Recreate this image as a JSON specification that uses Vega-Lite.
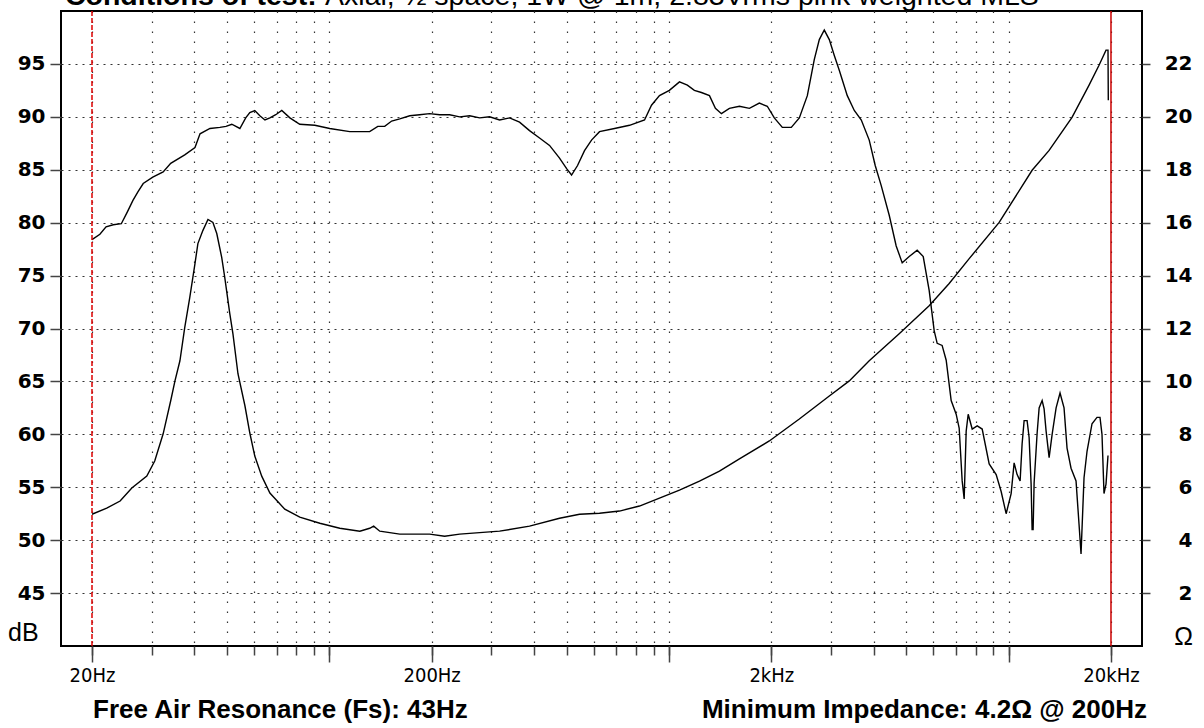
{
  "$schema": "https://vega.github.io/schema/vega-lite/v6.json",
  "width": 1081,
  "height": 635,
  "autosize": {"type": "none"},
  "padding": {"left": 61, "top": 11, "right": 62, "bottom": 82},
  "background": "#ffffff",
  "config": {"view": {"stroke": "#000000", "strokeWidth": 2}, "axis": {"domain": false}},
  "datasets": {
    "spl": [{"freq":20,"spl":78.4},{"freq":21.1,"spl":78.9},{"freq":22,"spl":79.6},{"freq":23.1,"spl":79.8},{"freq":24.4,"spl":79.9},{"freq":25.4,"spl":81.0},{"freq":26.4,"spl":82.1},{"freq":27.3,"spl":82.9},{"freq":28.3,"spl":83.7},{"freq":30.2,"spl":84.3},{"freq":32.4,"spl":84.8},{"freq":34.1,"spl":85.6},{"freq":37.5,"spl":86.4},{"freq":40.2,"spl":87.1},{"freq":41.6,"spl":88.4},{"freq":44.5,"spl":88.9},{"freq":47.6,"spl":89.0},{"freq":49.6,"spl":89.1},{"freq":51.6,"spl":89.3},{"freq":54.5,"spl":88.9},{"freq":56.7,"spl":89.9},{"freq":58.3,"spl":90.4},{"freq":60.3,"spl":90.6},{"freq":62.4,"spl":90.1},{"freq":64.6,"spl":89.7},{"freq":66.8,"spl":89.9},{"freq":69.5,"spl":90.2},{"freq":72.4,"spl":90.6},{"freq":76.5,"spl":89.9},{"freq":81.8,"spl":89.3},{"freq":90.6,"spl":89.2},{"freq":100.2,"spl":88.9},{"freq":114.8,"spl":88.6},{"freq":131.4,"spl":88.6},{"freq":138.8,"spl":89.1},{"freq":145.5,"spl":89.1},{"freq":152.5,"spl":89.6},{"freq":161.1,"spl":89.8},{"freq":172.4,"spl":90.1},{"freq":184.3,"spl":90.2},{"freq":197.3,"spl":90.3},{"freq":211.1,"spl":90.2},{"freq":225.9,"spl":90.2},{"freq":241.8,"spl":90.0},{"freq":258.8,"spl":90.1},{"freq":276.9,"spl":89.9},{"freq":296.2,"spl":90.0},{"freq":317,"spl":89.7},{"freq":339.2,"spl":89.9},{"freq":362.9,"spl":89.5},{"freq":388.3,"spl":88.7},{"freq":415.6,"spl":88.0},{"freq":444.7,"spl":87.3},{"freq":475.9,"spl":86.1},{"freq":499.3,"spl":85.1},{"freq":516.3,"spl":84.5},{"freq":537.7,"spl":85.4},{"freq":563.7,"spl":86.8},{"freq":591.1,"spl":87.8},{"freq":624,"spl":88.6},{"freq":690.8,"spl":88.9},{"freq":764.8,"spl":89.2},{"freq":846.7,"spl":89.7},{"freq":887.7,"spl":91.1},{"freq":937,"spl":92.0},{"freq":1002,"spl":92.5},{"freq":1073,"spl":93.3},{"freq":1132,"spl":93.0},{"freq":1187,"spl":92.5},{"freq":1245,"spl":92.3},{"freq":1315,"spl":92.0},{"freq":1369,"spl":90.8},{"freq":1426,"spl":90.3},{"freq":1505,"spl":90.8},{"freq":1611,"spl":91.0},{"freq":1724,"spl":90.8},{"freq":1844,"spl":91.3},{"freq":1946,"spl":91.0},{"freq":2041,"spl":89.9},{"freq":2155,"spl":89.0},{"freq":2290,"spl":89.0},{"freq":2418,"spl":89.9},{"freq":2553,"spl":92.0},{"freq":2676,"spl":95.4},{"freq":2769,"spl":97.3},{"freq":2864,"spl":98.2},{"freq":2963,"spl":97.3},{"freq":3065,"spl":95.8},{"freq":3170,"spl":94.4},{"freq":3347,"spl":92.0},{"freq":3510,"spl":90.6},{"freq":3681,"spl":89.7},{"freq":3884,"spl":87.8},{"freq":4045,"spl":85.4},{"freq":4213,"spl":83.5},{"freq":4448,"spl":80.7},{"freq":4663,"spl":77.8},{"freq":4857,"spl":76.2},{"freq":5093,"spl":76.8},{"freq":5376,"spl":77.4},{"freq":5601,"spl":76.8},{"freq":5831,"spl":73.6},{"freq":6032,"spl":69.8},{"freq":6156,"spl":68.6},{"freq":6366,"spl":68.4},{"freq":6544,"spl":67.0},{"freq":6769,"spl":63.2},{"freq":7002,"spl":61.9},{"freq":7146,"spl":60.6},{"freq":7293,"spl":55.6},{"freq":7393,"spl":53.9},{"freq":7494,"spl":60.3},{"freq":7597,"spl":61.9},{"freq":7806,"spl":60.5},{"freq":8075,"spl":60.8},{"freq":8353,"spl":60.5},{"freq":8758,"spl":57.2},{"freq":9183,"spl":56.2},{"freq":9499,"spl":54.6},{"freq":9826,"spl":52.5},{"freq":10164,"spl":54.4},{"freq":10372,"spl":57.3},{"freq":10584,"spl":56.2},{"freq":10802,"spl":55.6},{"freq":10949,"spl":59.1},{"freq":11099,"spl":61.3},{"freq":11326,"spl":61.3},{"freq":11481,"spl":59.7},{"freq":11638,"spl":55.3},{"freq":11717,"spl":51.0},{"freq":11797,"spl":51.0},{"freq":11877,"spl":55.4},{"freq":12122,"spl":60.1},{"freq":12288,"spl":62.5},{"freq":12541,"spl":63.2},{"freq":12709,"spl":62.4},{"freq":12883,"spl":60.3},{"freq":13149,"spl":57.8},{"freq":13420,"spl":60.0},{"freq":13787,"spl":62.5},{"freq":14159,"spl":63.9},{"freq":14549,"spl":62.5},{"freq":14848,"spl":58.7},{"freq":15256,"spl":56.8},{"freq":15781,"spl":55.6},{"freq":16105,"spl":51.5},{"freq":16325,"spl":48.7},{"freq":16660,"spl":55.9},{"freq":17003,"spl":58.4},{"freq":17587,"spl":61.0},{"freq":18192,"spl":61.6},{"freq":18565,"spl":61.6},{"freq":18818,"spl":60.0},{"freq":19075,"spl":54.4},{"freq":19337,"spl":55.3},{"freq":19600,"spl":58.0}],
    "imp": [{"freq":20,"ohm":4.98},{"freq":22.1,"ohm":5.21},{"freq":24.2,"ohm":5.48},{"freq":26.2,"ohm":5.97},{"freq":29.0,"ohm":6.42},{"freq":30.6,"ohm":6.99},{"freq":32.4,"ohm":8.02},{"freq":34.1,"ohm":9.27},{"freq":35.1,"ohm":10.02},{"freq":36.3,"ohm":10.78},{"freq":37.5,"ohm":12.03},{"freq":38.8,"ohm":13.17},{"freq":40.2,"ohm":14.45},{"freq":41.0,"ohm":15.21},{"freq":42.4,"ohm":15.70},{"freq":43.9,"ohm":16.12},{"freq":45.4,"ohm":16.01},{"freq":46.6,"ohm":15.59},{"freq":48.2,"ohm":14.68},{"freq":49.2,"ohm":13.92},{"freq":50.9,"ohm":12.56},{"freq":52.0,"ohm":11.80},{"freq":53.8,"ohm":10.29},{"freq":56.4,"ohm":9.08},{"freq":58.3,"ohm":8.05},{"freq":60.3,"ohm":7.18},{"freq":63.2,"ohm":6.42},{"freq":66.8,"ohm":5.78},{"freq":73.9,"ohm":5.17},{"freq":81.8,"ohm":4.87},{"freq":93.7,"ohm":4.64},{"freq":107.3,"ohm":4.45},{"freq":122.9,"ohm":4.34},{"freq":131.4,"ohm":4.45},{"freq":135.0,"ohm":4.53},{"freq":140.7,"ohm":4.34},{"freq":161.1,"ohm":4.23},{"freq":197.3,"ohm":4.23},{"freq":218.4,"ohm":4.15},{"freq":241.8,"ohm":4.23},{"freq":317,"ohm":4.34},{"freq":388.3,"ohm":4.53},{"freq":475.9,"ohm":4.83},{"freq":545,"ohm":4.98},{"freq":624,"ohm":5.02},{"freq":714.6,"ohm":5.10},{"freq":818.3,"ohm":5.29},{"freq":937,"ohm":5.59},{"freq":1073,"ohm":5.89},{"freq":1229,"ohm":6.23},{"freq":1407,"ohm":6.61},{"freq":1611,"ohm":7.07},{"freq":1973,"ohm":7.75},{"freq":2418,"ohm":8.58},{"freq":2963,"ohm":9.45},{"freq":3393,"ohm":10.02},{"freq":3884,"ohm":10.78},{"freq":4759,"ohm":11.80},{"freq":5831,"ohm":12.86},{"freq":6678,"ohm":13.70},{"freq":7649,"ohm":14.64},{"freq":9372,"ohm":16.01},{"freq":11717,"ohm":17.98},{"freq":13149,"ohm":18.73},{"freq":15358,"ohm":19.98},{"freq":17240,"ohm":21.20},{"freq":18443,"ohm":21.95},{"freq":19337,"ohm":22.52},{"freq":19600,"ohm":22.52},{"freq":19640,"ohm":20.63}],
    "one": [{}]
  },
  "layer": [
    {
      "data": {"name": "spl"},
      "mark": {"type": "line", "color": "#000000", "strokeWidth": 1.4},
      "encoding": {
        "x": {"field": "freq", "type": "quantitative",
          "scale": {"type": "log", "domain": [16.21, 24680], "nice": false},
          "axis": {"orient": "bottom", "title": null, "values": [20,30,40,50,60,70,80,90,100,200,300,400,500,600,700,800,900,1000,2000,3000,4000,5000,6000,7000,8000,9000,10000,20000],
            "labels": false, "tickSize": 9, "tickColor": "#444444", "tickWidth": 1.5,
            "grid": true, "gridColor": "#333333", "gridDash": [1.5, 8.5], "gridWidth": 1.2}},
        "y": {"field": "spl", "type": "quantitative",
          "scale": {"domain": [40, 100], "nice": false, "zero": false},
          "axis": {"title": null, "values": [45,50,55,60,65,70,75,80,85,90,95], "tickSize": 11, "tickColor": "#444444", "tickWidth": 1.5,
            "labelFont": "DejaVu Sans", "labelFontWeight": "bold", "labelFontSize": 20, "labelColor": "#000000", "labelPadding": 5,
            "grid": true, "gridColor": "#333333", "gridDash": [2, 5], "gridWidth": 1.2}}
      }
    },
    {
      "data": {"name": "imp"},
      "mark": {"type": "line", "color": "#000000", "strokeWidth": 1.4},
      "encoding": {
        "x": {"field": "freq", "type": "quantitative",
          "scale": {"type": "log", "domain": [16.21, 24680], "nice": false}, "axis": null},
        "y": {"field": "ohm", "type": "quantitative",
          "scale": {"domain": [0, 24], "nice": false},
          "axis": {"orient": "right", "title": null, "values": [2,4,6,8,10,12,14,16,18,20,22], "tickSize": 8, "tickColor": "#444444", "tickWidth": 1.5,
            "labelFont": "DejaVu Sans", "labelFontWeight": "bold", "labelFontSize": 20, "labelColor": "#000000", "labelAlign": "right", "labelPadding": 42, "grid": false}}
      }
    },
    {
      "data": {"name": "one"},
      "mark": {"type": "rule", "color": "#dd0000", "strokeWidth": 1.5, "strokeDash": [5, 2]},
      "encoding": {
        "x": {"datum": 20, "type": "quantitative",
          "scale": {"type": "log", "domain": [16.21, 24680], "nice": false},
          "axis": {"orient": "bottom", "title": null, "values": [20,100,200,1000,2000,10000,20000], "tickSize": 16, "tickColor": "#444444", "tickWidth": 1.5,
            "labelExpr": "datum.value == 20 ? '20Hz' : datum.value == 200 ? '200Hz' : datum.value == 2000 ? '2kHz' : datum.value == 20000 ? '20kHz' : ''",
            "labelFont": "'DejaVu Sans Condensed', 'Liberation Sans', sans-serif", "labelFontSize": 20, "labelColor": "#000000", "labelPadding": 3,
            "labelFlush": false, "labelOverlap": false, "grid": false}}
      }
    },
    {
      "data": {"name": "one"},
      "mark": {"type": "rule", "color": "#cc0000", "strokeWidth": 1.5},
      "encoding": {
        "x": {"datum": 20000, "type": "quantitative",
          "scale": {"type": "log", "domain": [16.21, 24680], "nice": false}, "axis": null}
      }
    },
    {
      "data": {"name": "one"},
      "mark": {"type": "text", "text": "Conditions of test:", "font": "Liberation Sans", "fontSize": 28.5, "fontWeight": "bold", "align": "left", "baseline": "alphabetic", "color": "#000000"},
      "encoding": {
        "x": {"datum": 16.65, "type": "quantitative", "scale": {"type": "log", "domain": [16.21, 24680], "nice": false}, "axis": null},
        "y": {"datum": 100.57, "type": "quantitative", "scale": {"domain": [40, 100], "nice": false, "zero": false}, "axis": null}
      }
    },
    {
      "data": {"name": "one"},
      "mark": {"type": "text", "text": "Axial, ½ space, 1W @ 1m, 2.83Vrms pink weighted MLS", "font": "Liberation Sans", "fontSize": 28.5, "align": "left", "baseline": "alphabetic", "color": "#000000"},
      "encoding": {
        "x": {"datum": 97.1, "type": "quantitative", "scale": {"type": "log", "domain": [16.21, 24680], "nice": false}, "axis": null},
        "y": {"datum": 100.57, "type": "quantitative", "scale": {"domain": [40, 100], "nice": false, "zero": false}, "axis": null}
      }
    },
    {
      "data": {"name": "one"},
      "mark": {"type": "text", "text": "Free Air Resonance (Fs): 43Hz", "font": "Liberation Sans", "fontSize": 26, "fontWeight": "bold", "align": "left", "baseline": "alphabetic", "color": "#000000"},
      "encoding": {
        "x": {"datum": 20.14, "type": "quantitative", "scale": {"type": "log", "domain": [16.21, 24680], "nice": false}, "axis": null},
        "y": {"datum": 33.19, "type": "quantitative", "scale": {"domain": [40, 100], "nice": false, "zero": false}, "axis": null}
      }
    },
    {
      "data": {"name": "one"},
      "mark": {"type": "text", "text": "Minimum Impedance: 4.2Ω @ 200Hz", "font": "Liberation Sans", "fontSize": 26, "fontWeight": "bold", "align": "right", "baseline": "alphabetic", "color": "#000000"},
      "encoding": {
        "x": {"datum": 25520, "type": "quantitative", "scale": {"type": "log", "domain": [16.21, 24680], "nice": false}, "axis": null},
        "y": {"datum": 33.19, "type": "quantitative", "scale": {"domain": [40, 100], "nice": false, "zero": false}, "axis": null}
      }
    },
    {
      "data": {"name": "one"},
      "mark": {"type": "text", "text": "dB", "font": "Liberation Sans", "fontSize": 25, "align": "left", "baseline": "alphabetic", "color": "#000000"},
      "encoding": {
        "x": {"datum": 11.32, "type": "quantitative", "scale": {"type": "log", "domain": [16.21, 24680], "nice": false}, "axis": null},
        "y": {"datum": 40.47, "type": "quantitative", "scale": {"domain": [40, 100], "nice": false, "zero": false}, "axis": null}
      }
    },
    {
      "data": {"name": "one"},
      "mark": {"type": "text", "text": "Ω", "font": "Liberation Sans", "fontSize": 25, "align": "right", "baseline": "alphabetic", "color": "#000000"},
      "encoding": {
        "x": {"datum": 34870, "type": "quantitative", "scale": {"type": "log", "domain": [16.21, 24680], "nice": false}, "axis": null},
        "y": {"datum": 40.09, "type": "quantitative", "scale": {"domain": [40, 100], "nice": false, "zero": false}, "axis": null}
      }
    }
  ],
  "resolve": {"scale": {"y": "independent"}, "axis": {"x": "independent"}}
}
